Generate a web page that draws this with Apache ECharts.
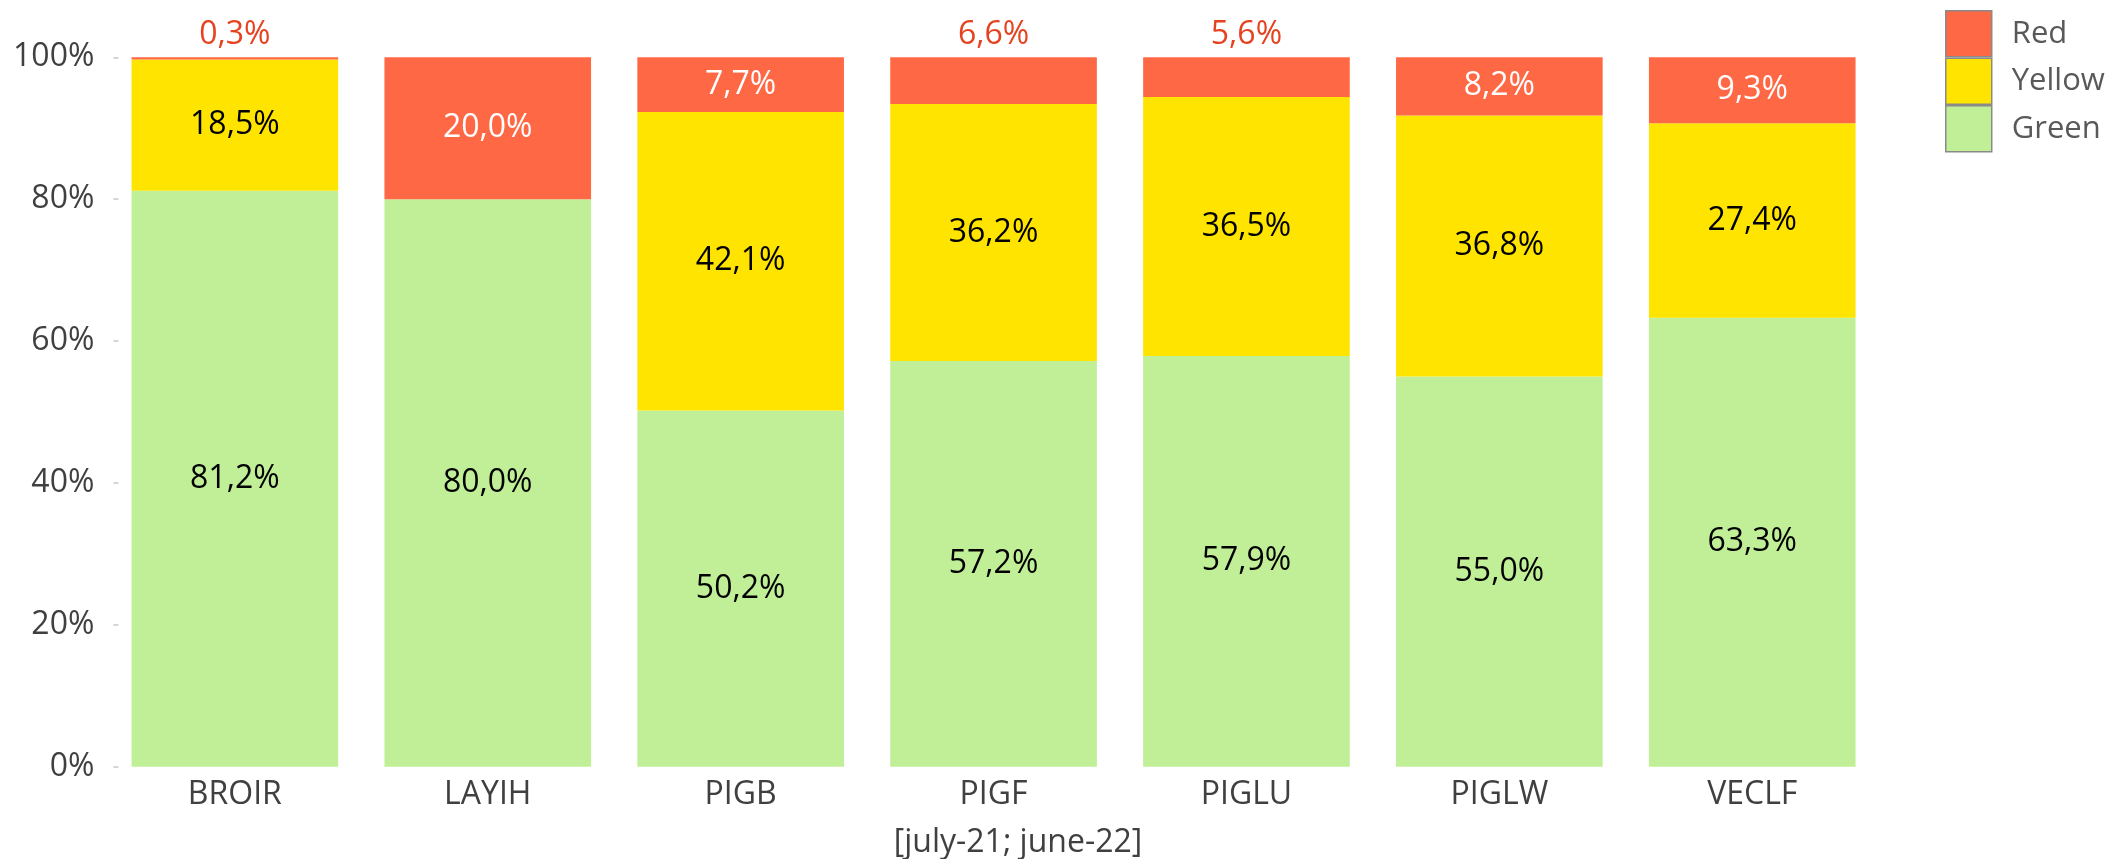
<!DOCTYPE html>
<html>
<head>
<meta charset="utf-8">
<script src="https://cdn.jsdelivr.net/npm/echarts@6/dist/echarts.min.js"></script>
<style>
html,body{margin:0;padding:0;background:#fff;}
#c{width:2109px;height:859px;}
</style>
</head>
<body>
<div id="c"></div>
<script>
var categories = ['BROIR', 'LAYIH', 'PIGB', 'PIGF', 'PIGLU', 'PIGLW', 'VECLF'];
var greenValues = [81.2, 80.0, 50.2, 57.2, 57.9, 55.0, 63.3];
var yellowValues = [18.5, 0, 42.1, 36.2, 36.5, 36.8, 27.4];
var redValues = [0.3, 20.0, 7.7, 6.6, 5.6, 8.2, 9.3];
var yTicks = [0, 20, 40, 60, 80, 100];
var xTitle = '[july-21; june-22]';

var FONT = '"Open Sans", "Noto Sans", sans-serif';
var FS = 32;
var fmt = function (v) { return v.toFixed(1).replace('.', ',') + '%'; };

var chart = echarts.init(document.getElementById('c'));

function plainLabel(color) {
  return {
    show: true, position: 'inside', color: color, fontFamily: FONT, fontSize: FS,
    formatter: function (p) { return p.value ? fmt(p.value) : ''; }
  };
}

var redData = redValues.map(function (v) {
  if (v < 7) {
    return { value: v, label: { position: 'top', distance: 6, color: '#E5421F' } };
  }
  return { value: v };
});

chart.setOption({
  animation: false,
  textStyle: { fontFamily: FONT },
  grid: { left: 108.4, right: 230.3, top: 57.3, bottom: 92.3, containLabel: false },
  legend: {
    orient: 'vertical', left: 1945, top: 10, padding: 0,
    data: ['Red', 'Yellow', 'Green'],
    icon: 'rect', itemWidth: 46, itemHeight: 46, itemGap: 0,
    textStyle: { fontFamily: FONT, fontSize: 31, color: '#595959', padding: [0, 0, 0, 15] },
    itemStyle: { borderColor: '#8a8a8a', borderWidth: 1.5 }
  },
  xAxis: {
    type: 'category', data: categories,
    axisLine: { show: false }, axisTick: { show: false },
    axisLabel: { fontFamily: FONT, fontSize: FS, color: '#404040', margin: 12 }
  },
  yAxis: {
    type: 'value', min: 0, max: 100, interval: 20,
    offset: -10,
    splitLine: { show: false },
    axisLine: { show: false },
    axisTick: { show: true, length: 5, lineStyle: { color: '#c8c8c8', width: 1.5 } },
    axisLabel: {
      fontFamily: FONT, fontSize: FS, color: '#404040', margin: 24,
      formatter: function (v) { return yTicks.indexOf(v) >= 0 ? v + '%' : ''; }
    }
  },
  graphic: [{
    type: 'text', x: 1018, y: 843,
    style: { text: xTitle, fontFamily: FONT, fontSize: FS, fill: '#404040', textAlign: 'center', textVerticalAlign: 'middle' }
  }],
  series: [
    { name: 'Green', type: 'bar', stack: 's', data: greenValues, barCategoryGap: '18.3%',
      itemStyle: { color: '#C0EF98' }, label: plainLabel('#000000') },
    { name: 'Yellow', type: 'bar', stack: 's', data: yellowValues,
      itemStyle: { color: '#FFE400' }, label: plainLabel('#000000') },
    { name: 'Red', type: 'bar', stack: 's', data: redData,
      itemStyle: { color: '#FF6845' }, label: plainLabel('#ffffff') }
  ]
});
</script>
</body>
</html>
